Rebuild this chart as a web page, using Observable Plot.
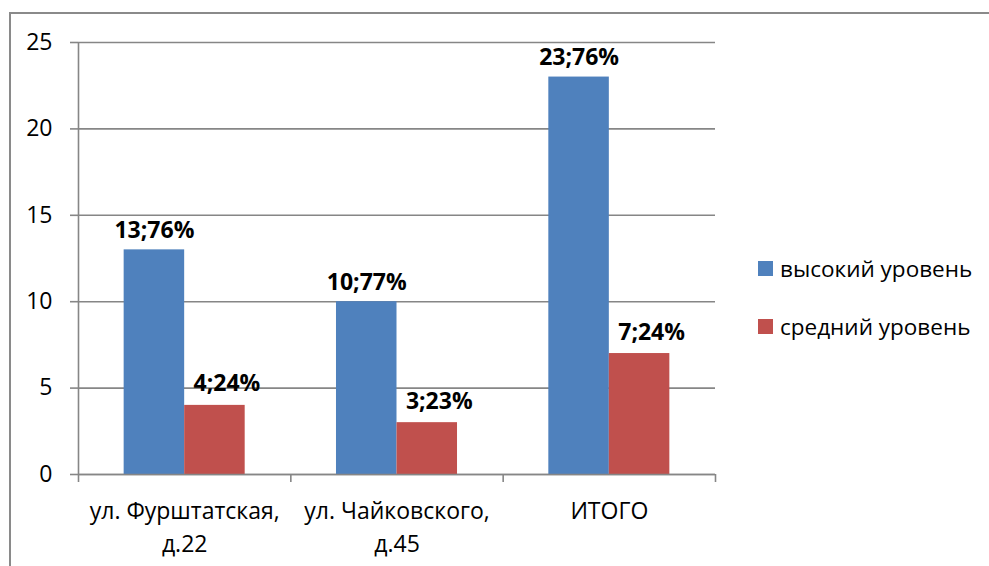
<!DOCTYPE html>
<html><head><meta charset="utf-8">
<script src="https://cdn.jsdelivr.net/npm/d3@7"></script>
<script src="https://cdn.jsdelivr.net/npm/@observablehq/plot@0.6"></script>
<style>
body{margin:0;background:#fff;font-family:"Open Sans",sans-serif;}
#wrap{position:relative;width:989px;height:566px;overflow:hidden;background:#fff;}
#border{position:absolute;left:9px;top:12px;width:1100px;height:700px;border-left:2px solid #8a8a8a;border-top:2px solid #8a8a8a;}
#chart{position:absolute;left:0;top:0;}
#legend{position:absolute;left:758px;top:0;}
.item{position:absolute;left:0;white-space:nowrap;font-size:22.5px;color:#000;display:flex;align-items:center;height:30px;}
.sw{width:15px;height:15px;margin-right:7px;flex:none;}
</style></head><body>
<div id="wrap"><div id="border"></div><div id="chart"></div><div id="legend"></div></div>
<script>
const categories = ["ул. Фурштатская,\nд.22", "ул. Чайковского,\nд.45", "ИТОГО"];
const seriesNames = ["высокий уровень", "средний уровень"];
const highValues = [13, 10, 23];
const midValues = [4, 3, 7];
const highLabels = ["13;76%", "10;77%", "23;76%"];
const midLabels = ["4;24%", "3;23%", "7;24%"];
const yTicks = [0, 5, 10, 15, 20, 25];
const colors = ["#4F81BD", "#C0504D"];

const gray = "#868686";
const fs = 23;
const bw = 0.285; // bar width as a fraction of a category slot
const rows = [];
categories.forEach((c, i) => {
  rows.push({i, s: 0, series: seriesNames[0], value: highValues[i], label: highLabels[i]});
  rows.push({i, s: 1, series: seriesNames[1], value: midValues[i], label: midLabels[i]});
});
const x1 = d => d.i + 0.5 + (d.s - 1) * bw;
const x2 = d => d.i + 0.5 + d.s * bw;
const xc = d => d.i + 0.5 + (d.s - 0.5) * bw;

const chart = Plot.plot({
  width: 989, height: 566,
  marginLeft: 78, marginRight: 274, marginTop: 42, marginBottom: 92,
  style: {fontFamily: "'Open Sans', sans-serif", fontSize: fs + "px", color: "#000", background: "transparent"},
  x: {type: "linear", domain: [0, 3], axis: null},
  y: {domain: [0, 25], axis: null},
  color: {domain: seriesNames, range: colors},
  marks: [
    Plot.gridY({ticks: yTicks, stroke: gray, strokeOpacity: 1, strokeWidth: 1.6}),
    Plot.axisY({ticks: yTicks, tickSize: 8, tickPadding: 18, stroke: gray, strokeWidth: 1.6, fill: "#000", fontSize: fs, label: null}),
    Plot.rectY(rows, {x1, x2, y: "value", fill: "series"}),
    Plot.ruleX([0], {stroke: gray, strokeWidth: 1.6}),
    Plot.ruleY([0], {stroke: gray, strokeWidth: 1.6}),
    Plot.axisX({ticks: [0, 1, 2, 3], tickSize: 8, tickFormat: () => "", stroke: gray, strokeWidth: 1.6, label: null}),
    Plot.text(categories, {x: (d, i) => i + 0.5, frameAnchor: "bottom", lineAnchor: "top", dy: 22, lineHeight: 1.4, text: d => d, fontSize: fs, fill: "#000"}),
    Plot.text(rows.filter(d => d.s === 0), {x: xc, y: "value", text: "label", lineAnchor: "bottom", dy: -12, fontWeight: "bold", fontSize: fs, fill: "#000"}),
    Plot.text(rows.filter(d => d.s === 1), {x: xc, y: "value", text: "label", lineAnchor: "bottom", dy: -14, dx: 12, fontWeight: "bold", fontSize: fs, fill: "#000"})
  ]
});
document.getElementById("chart").appendChild(chart);

const legend = document.getElementById("legend");
const legendTops = [253, 311];
seriesNames.forEach((name, k) => {
  const item = document.createElement("div");
  item.className = "item";
  item.style.top = legendTops[k] + "px";
  const sw = document.createElement("span");
  sw.className = "sw";
  sw.style.background = colors[k];
  const t = document.createElement("span");
  t.textContent = name;
  item.appendChild(sw); item.appendChild(t);
  legend.appendChild(item);
});
</script>
</body></html>
